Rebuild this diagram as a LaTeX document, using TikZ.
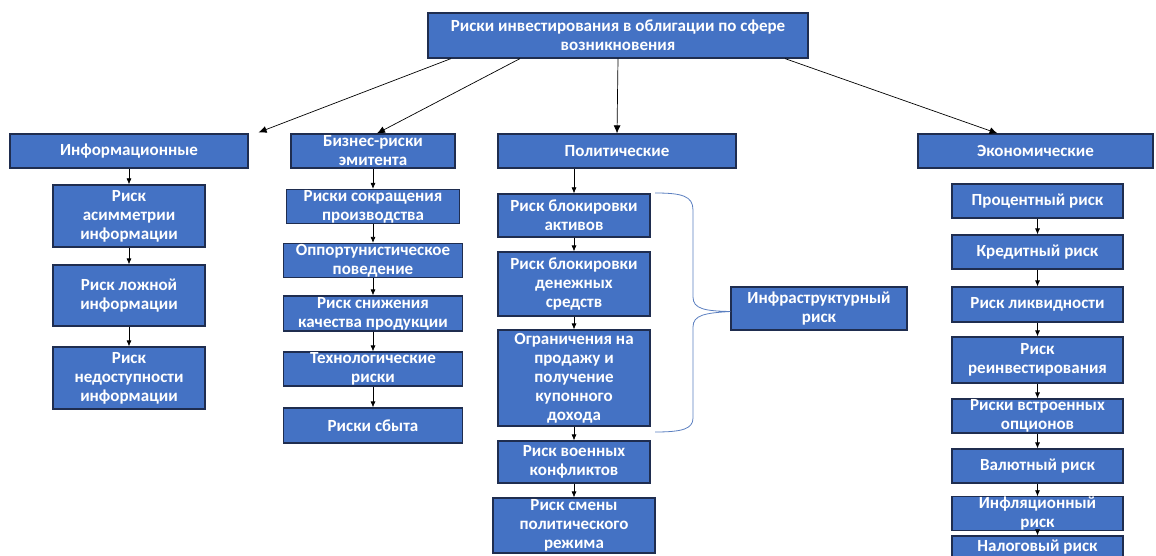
\documentclass[tikz,border=0pt]{standalone}
\usepackage{fontspec}
\setmainfont{Carlito}
\usetikzlibrary{arrows.meta}
\definecolor{boxblue}{HTML}{4472C4}
\definecolor{boxline}{HTML}{1F2D4F}
\definecolor{bracecol}{HTML}{5B7FC0}

\begin{document}
\begin{tikzpicture}[x=1pt,y=-1pt]
  \useasboundingbox (0,0) rectangle (1156,556);

        \begin{scope}[every node/.style={rectangle, draw=boxline, line width=1.2pt, fill=boxblue, text=white, align=center, inner sep=0pt, font=\fontsize{17}{19}\selectfont\bfseries}]
          \node[minimum width=380, minimum height=45] (r) at (618,35.5) {Риски инвестирования в облигации по сфере\\возникновения};

          \node[minimum width=238, minimum height=34] (inf) at (129,151)    {Информационные};
          \node[minimum width=164, minimum height=34] (biz) at (373,151)    {Бизнес-риски\\эмитента};
          \node[minimum width=238, minimum height=34] (pol) at (617,151)    {Политические};
          \node[minimum width=235, minimum height=34] (eco) at (1035.5,151) {Экономические};

          \node[minimum width=152, minimum height=62] (a1) at (129,216)   {Риск\\асимметрии\\информации};
          \node[minimum width=152, minimum height=61] (a2) at (129,295.5) {Риск ложной\\информации};
          \node[minimum width=152, minimum height=62] (a3) at (129,378)   {Риск\\недоступности\\информации};

          \node[minimum width=173, minimum height=34] (b1) at (373,206.5) {Риски сокращения\\производства};
          \node[minimum width=179, minimum height=34] (b2) at (373,260.5) {Оппортунистическое\\поведение};
          \node[minimum width=179, minimum height=35] (b3) at (373,313.5) {Риск снижения\\качества продукции};
          \node[minimum width=179, minimum height=34] (b4) at (373,369)   {Технологические\\риски};
          \node[minimum width=179, minimum height=35] (b5) at (373,425.5) {Риски сбыта};

          \node[minimum width=152, minimum height=43] (c1) at (574,215.5) {Риск блокировки\\активов};
          \node[minimum width=152, minimum height=64] (c2) at (574,284)   {Риск блокировки\\денежных\\средств};
          \node[minimum width=152, minimum height=96] (c3) at (574,378)   {Ограничения на\\продажу и\\получение\\купонного\\дохода};
          \node[minimum width=152, minimum height=42] (c4) at (574,462)   {Риск военных\\конфликтов};
          \node[minimum width=162, minimum height=55] (c5) at (574,525.5) {Риск смены\\политического\\режима};
          \node[minimum width=176, minimum height=43] (c6) at (819,308.5) {Инфраструктурный\\риск};

          \node[minimum width=171, minimum height=34] (d1) at (1037.5,201)   {Процентный риск};
          \node[minimum width=171, minimum height=34] (d2) at (1037.5,252)   {Кредитный риск};
          \node[minimum width=171, minimum height=35] (d3) at (1037.5,304.5) {Риск ликвидности};
          \node[minimum width=171, minimum height=46] (d4) at (1037.5,360)   {Риск\\реинвестирования};
          \node[minimum width=171, minimum height=34] (d5) at (1037.5,416)   {Риски встроенных\\опционов};
          \node[minimum width=171, minimum height=34] (d6) at (1037.5,466)   {Валютный риск};
          \node[minimum width=171, minimum height=33] (d7) at (1037.5,513.5) {Инфляционный\\риск};
          \node[minimum width=171, minimum height=22] (d8) at (1037.5,547)   {Налоговый риск};
        \end{scope}

        \coordinate (bt) at (655,193);
        \coordinate (bb) at (655,432);

        \begin{scope}[every edge/.style={draw, line width=0.7pt, -{Latex[length=6pt,width=5pt]}}]
          \path ([xshift=-167]r.south) edge[-{Latex[length=8pt,width=7pt]}] ([xshift=10,yshift=1]inf.north east);
          \path ([xshift=-98]r.south)  edge[-{Latex[length=8pt,width=7pt]}] ([xshift=4]biz.north);
          \path (r.south)              edge[-{Latex[length=8pt,width=7pt]}] (pol.north);
          \path ([xshift=167]r.south)  edge[-{Latex[length=8pt,width=7pt]}] ([xshift=-38]eco.north);

          \path (inf) edge (a1);
          \path (a1)  edge (a2);
          \path (a2)  edge (a3);

          \path (biz) edge (b1);
          \path (b1)  edge (b2);
          \path (b2)  edge (b3);
          \path (b3)  edge (b4);
          \path (b4)  edge (b5);

          \path (pol.south -| c1.north) edge (c1);
          \path (c1) edge (c2);
          \path (c2) edge (c3);
          \path (c3) edge (c4);
          \path (c4) edge (c5);

          \path (d1) edge (d2);
          \path (d2) edge (d3);
          \path (d3) edge (d4);
          \path (d4) edge (d5);
          \path (d5) edge (d6);
          \path (d6) edge (d7);
          \path (d7) edge (d8);
        \end{scope}

        % brace round the three blocking risks
        \draw[bracecol, line width=0.8pt] (bt) .. controls (682,193) and (693,196) .. (693,210)
          -- (693,297) .. controls (693,309) and (705,311) .. ([yshift=-3]c6.west)
          .. controls (705,313) and (693,315) .. (693,327)
          -- (693,418) .. controls (693,429) and (682,432) .. (bb);

      \end{tikzpicture}
\end{document}
